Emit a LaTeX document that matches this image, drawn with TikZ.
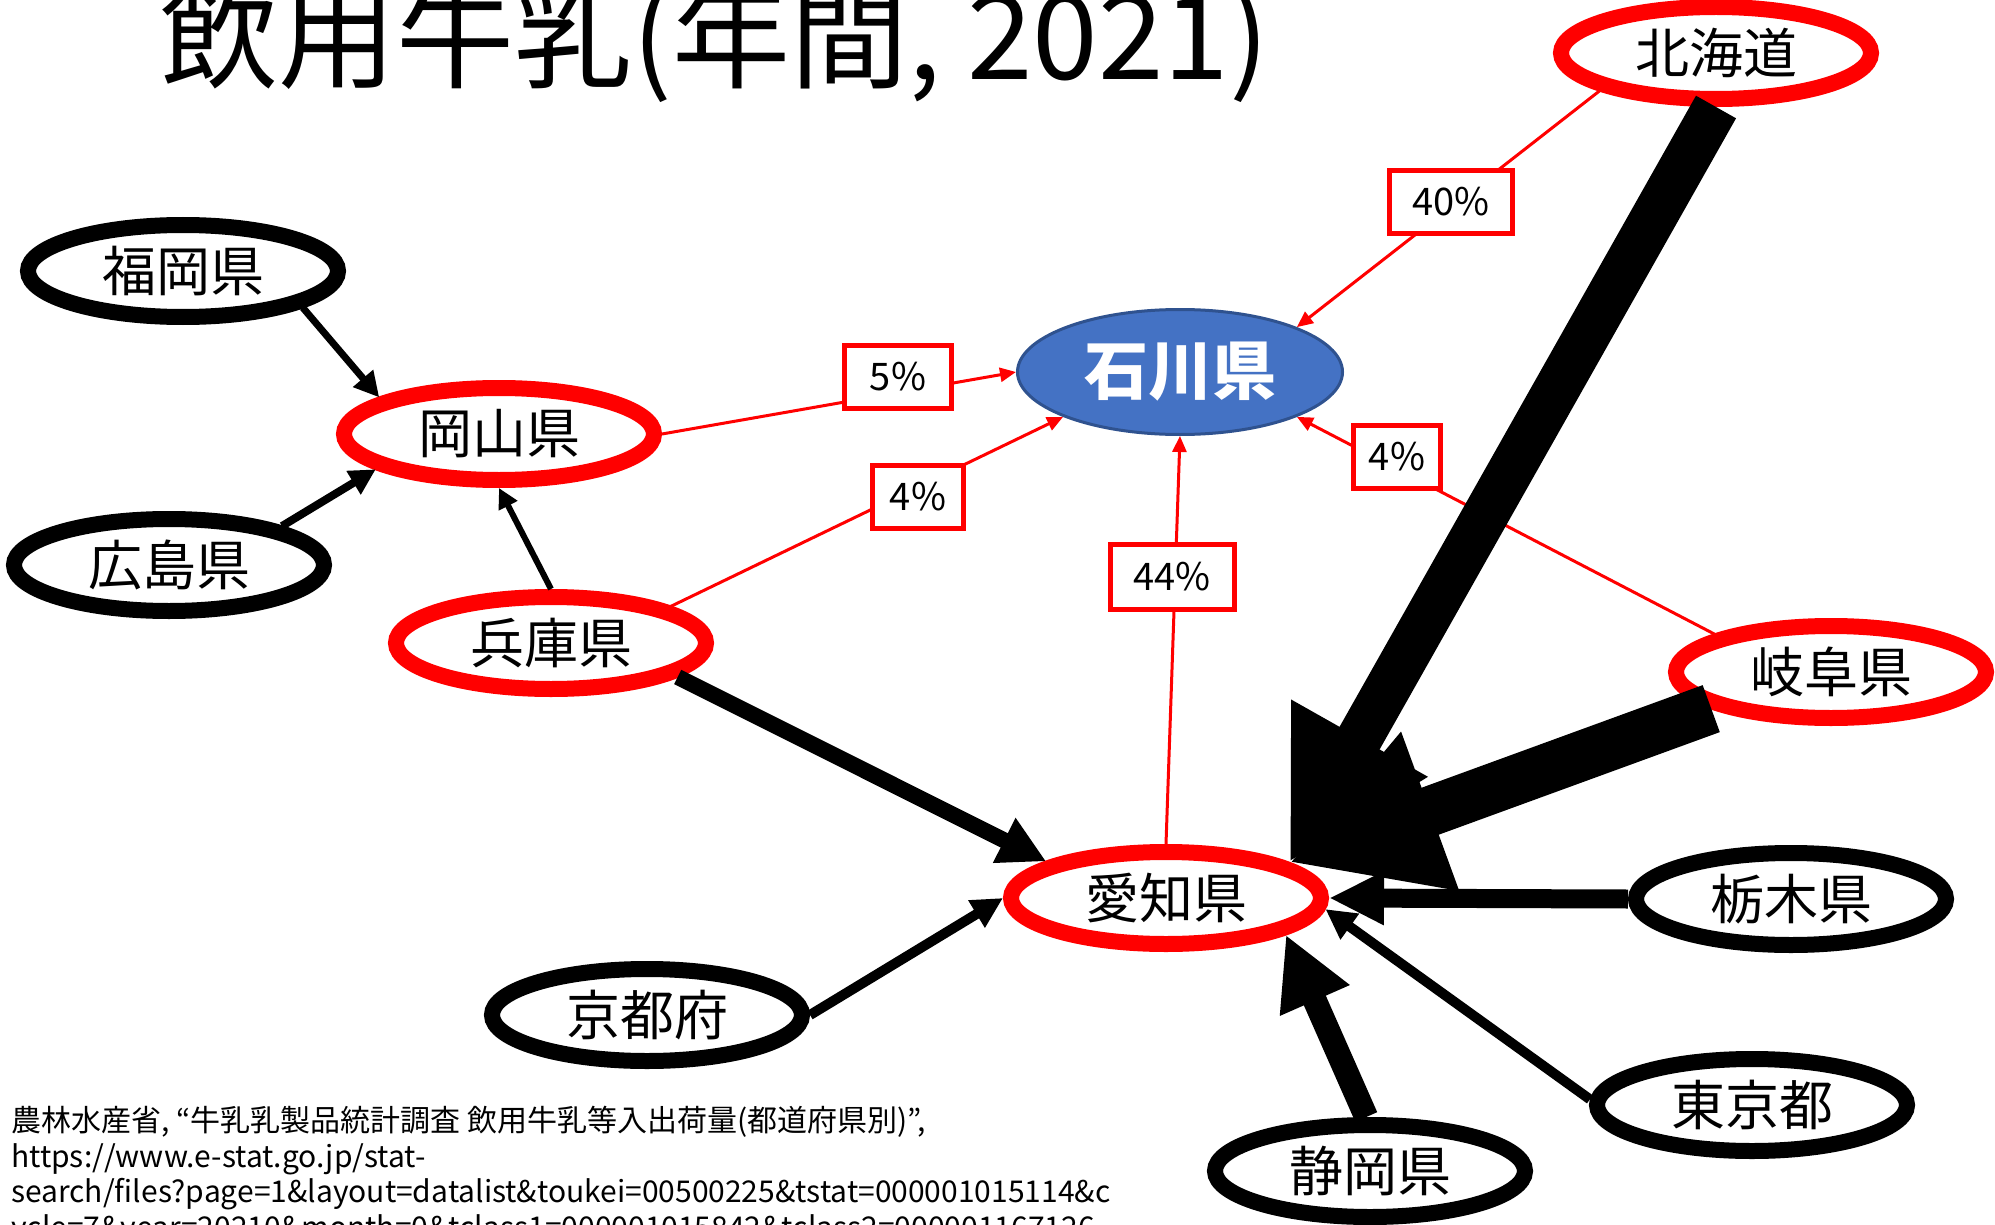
\documentclass[tikz,border=0pt]{standalone}
\usepackage{fontspec}
\setmainfont{Noto Sans CJK JP}
\usetikzlibrary{arrows.meta,shapes.geometric}
\definecolor{pptred}{HTML}{FF0000}
\definecolor{pptblue}{HTML}{4472C4}
\definecolor{pptnavy}{HTML}{2F528F}
\begin{document}
\begin{tikzpicture}[x=1pt,y=-1pt,
  pref/.style={ellipse, draw, line width=16pt, minimum width=310pt, minimum height=92pt, inner sep=0pt, font=\fontsize{54}{60}\selectfont},
  redpref/.style={pref, draw=pptred},
  blkpref/.style={pref, draw=black},
  redline/.style={draw=pptred, line width=3pt, -{Triangle[length=16pt,width=14pt]}},
  pctbox/.style={draw=pptred, fill=white, line width=5pt, inner sep=0pt, minimum height=63pt, font=\fontsize{38}{40}\selectfont},
  flow/.style n args={3}{draw=black, line width=#1pt, -{Triangle[length=#2pt,width=#3pt]}},
]
\useasboundingbox (0,0) rectangle (1995,1225);
\fill[white] (0,0) rectangle (1995,1225);

% title
\node[anchor=base west, inner sep=0pt, font=\fontsize{118}{130}\selectfont] (title) at (160,80) {飲用牛乳(年間, 2021)};

% prefecture nodes
\node[redpref] (hokkaido) at (1716,53) {北海道};
\node[blkpref] (fukuoka) at (183,271) {福岡県};
\node[redpref] (okayama) at (499,434) {岡山県};
\node[blkpref] (hiroshima) at (169,565) {広島県};
\node[redpref] (hyogo) at (551,643) {兵庫県};
\node[redpref] (gifu) at (1831,672) {岐阜県};
\node[redpref] (aichi) at (1166,898) {愛知県};
\node[blkpref] (tochigi) at (1791,899) {栃木県};
\node[blkpref] (kyoto) at (647,1015) {京都府};
\node[blkpref] (tokyo) at (1752,1105) {東京都};
\node[blkpref] (shizuoka) at (1370,1171) {静岡県};
\node[ellipse, draw=pptnavy, fill=pptblue, line width=3pt, minimum width=325pt, minimum height=125pt, inner sep=0pt, text=white, font=\fontsize{64}{70}\selectfont\bfseries] (ishikawa) at (1180,372) {石川県};

% red share connectors
\draw[redline] (hokkaido.198) -- (ishikawa.21);
\draw[redline] (okayama.0) -- (ishikawa.180);
\draw[redline] (hyogo.17.6) -- (ishikawa.-159);
\draw[redline] (aichi.90) -- (ishikawa.-90);
\draw[redline] (gifu.162) -- (ishikawa.-21);

% percentage labels
\node[pctbox, minimum width=123pt] (p40) at (1451,202) {40\%};
\node[pctbox, minimum width=107pt] (p5) at (898,377) {5\%};
\node[pctbox, minimum width=91pt] (p4a) at (918,497) {4\%};
\node[pctbox, minimum width=124pt, minimum height=65pt] (p44) at (1172,577) {44\%};
\node[pctbox, minimum width=87pt] (p4b) at (1397,457) {4\%};

% black flow arrows
\draw[flow={7}{25}{25}] (fukuoka.-17.8) -- (okayama.163);
\draw[flow={8}{26}{26}] (hiroshima.19.5) -- (okayama.196.7);
\draw[flow={6}{20}{20}] (hyogo.90) -- (okayama.-90);
\draw[flow={16}{47}{47}] (hyogo.-15.4) -- (aichi.163.9);
\draw[flow={10}{31}{30}] (kyoto.0) -- (aichi.180);
\draw[flow={46}{143}{146}] (hokkaido.-90) -- (aichi.16);
\draw[flow={50}{150}{158}] (gifu.197.5) -- (aichi.16.5);
\draw[flow={19}{55}{50}] (tochigi.180) -- (aichi.0);
\draw[flow={10}{30}{30}] (tokyo.178) -- (aichi.-4);
\draw[flow={24}{72}{71}] (shizuoka.94) -- (aichi.-17);

% source
\node[anchor=north west, align=left, inner sep=0pt, font=\fontsize{30}{35.5}\selectfont] (cite) at (11,1106) {農林水産省, “牛乳乳製品統計調査 飲用牛乳等入出荷量(都道府県別)”,\\https://www.e-stat.go.jp/stat-\\search/files?page=1\&layout=datalist\&toukei=00500225\&tstat=000001015114\&c\\ycle=7\&year=20210\&month=0\&tclass1=000001015842\&tclass2=000001167126};
\end{tikzpicture}
\end{document}
